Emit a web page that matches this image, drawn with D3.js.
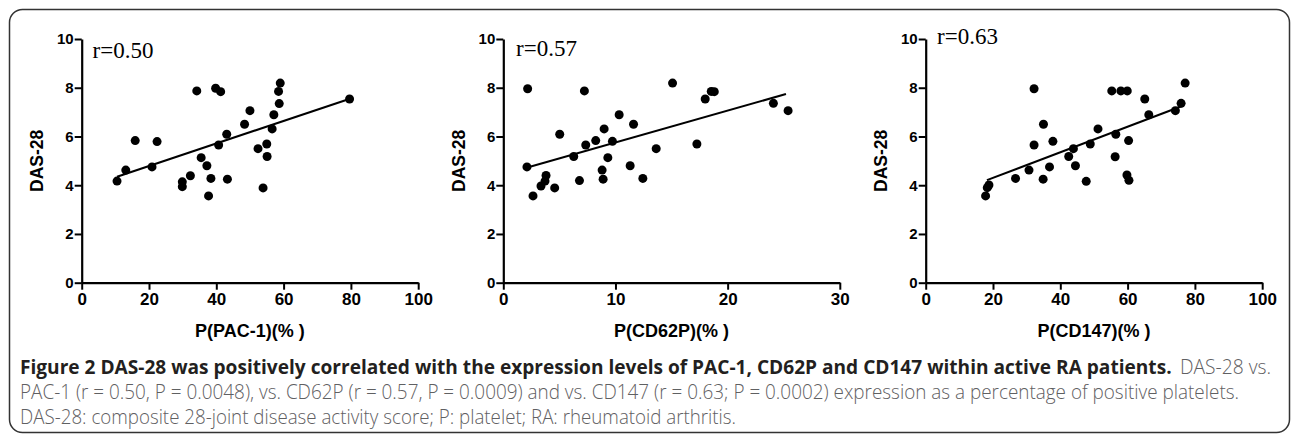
<!DOCTYPE html>
<html>
<head>
<meta charset="utf-8">
<script src="https://cdn.jsdelivr.net/npm/d3@7"></script>
<style>
  html, body { margin: 0; padding: 0; background: #fff; }
  svg { display: block; }
</style>
</head>
<body>
<svg id="chart" width="1296" height="438"></svg>
<script>
// ---------- data ----------
const pacX = [10.5, 13.1, 15.9, 20.9, 22.4, 29.9, 29.9, 32.3, 34.2, 35.5, 37.2, 38.4, 37.7, 39.8, 41.3, 40.7, 43.1, 43.3, 48.4, 50.0, 52.4, 53.9, 55.0, 55.1, 56.6, 57.1, 58.7, 58.5, 59.0, 79.6];
const pacY = [4.17, 4.62, 5.83, 4.75, 5.79, 4.14, 3.94, 4.39, 7.87, 5.13, 4.80, 4.28, 3.56, 7.98, 7.84, 5.65, 6.09, 4.25, 6.50, 7.06, 5.50, 3.89, 5.69, 5.18, 6.31, 6.89, 7.35, 7.85, 8.19, 7.54];

const cd62pX = [2.17, 2.11, 2.65, 3.36, 3.72, 3.81, 4.58, 5.03, 6.28, 6.79, 7.23, 7.35, 8.24, 8.81, 8.90, 8.99, 9.32, 9.73, 10.33, 11.31, 11.61, 12.44, 13.63, 15.09, 17.26, 18.0, 18.54, 18.81, 24.08, 25.39];
const cd62pY = [7.96, 4.75, 3.56, 3.97, 4.17, 4.40, 3.89, 6.09, 5.18, 4.19, 7.87, 5.65, 5.83, 4.62, 4.25, 6.31, 5.13, 5.80, 6.89, 4.80, 6.50, 4.28, 5.50, 8.19, 5.69, 7.54, 7.85, 7.84, 7.36, 7.06];

const cd147X = [17.8, 18.3, 18.8, 26.7, 30.7, 32.2, 32.2, 34.9, 35.0, 36.8, 37.8, 42.5, 43.9, 44.5, 47.7, 48.9, 51.2, 55.3, 56.3, 56.5, 58.0, 59.9, 59.8, 60.4, 60.3, 65.1, 66.3, 74.2, 75.9, 77.1];
const cd147Y = [3.56, 3.90, 4.01, 4.28, 4.62, 7.96, 5.65, 4.25, 6.50, 4.75, 5.80, 5.18, 5.50, 4.80, 4.16, 5.69, 6.31, 7.87, 5.17, 6.09, 7.87, 7.87, 4.42, 4.20, 5.83, 7.54, 6.89, 7.06, 7.36, 8.19];

// regression line end points
const pacFit = [[10.5, 4.35], [79.5, 7.54]];
const cd62pFit = [[2.3, 4.75], [25.2, 7.74]];
const cd147Fit = [[18.2, 4.21], [76.2, 7.25]];

const rLabels = ["r=0.50", "r=0.57", "r=0.63"];
const xTitles = ["P(PAC-1)(% )", "P(CD62P)(% )", "P(CD147)(% )"];
const yTitle = "DAS-28";
const xDomains = [[0, 100], [0, 30], [0, 100]];
const xTicks = [[0, 20, 40, 60, 80, 100], [0, 10, 20, 30], [0, 20, 40, 60, 80, 100]];
const yTicks = [0, 2, 4, 6, 8, 10];

const captionBold = "Figure 2 DAS-28 was positively correlated with the expression levels of PAC-1, CD62P and CD147 within active RA patients.";
const captionLine1Rest = "DAS-28 vs.";
const captionLine2 = "PAC-1 (r = 0.50, P = 0.0048), vs. CD62P (r = 0.57, P = 0.0009) and vs. CD147 (r = 0.63; P = 0.0002) expression as a percentage of positive platelets.";
const captionLine3 = "DAS-28: composite 28-joint disease activity score; P: platelet; RA: rheumatoid arthritis.";

// ---------- layout ----------
const svg = d3.select("#chart");
svg.append("rect")
  .attr("x", 9.5).attr("y", 9.5)
  .attr("width", 1280).attr("height", 423)
  .attr("rx", 13).attr("ry", 13)
  .attr("fill", "none").attr("stroke", "#333").attr("stroke-width", 1.5);

const panels = [
  { xs: pacX, ys: pacY, fit: pacFit, left: 81.7, rX: 92.5, rY: 58 },
  { xs: cd62pX, ys: cd62pY, fit: cd62pFit, left: 503.3, rX: 516, rY: 56 },
  { xs: cd147X, ys: cd147Y, fit: cd147Fit, left: 925.7, rX: 937, rY: 43.5 }
];
const plotW = 336.5, plotTop = 39, plotBottom = 282.7;
const font = "'Liberation Sans', Arial, sans-serif";

panels.forEach((p, i) => {
  const x = d3.scaleLinear().domain(xDomains[i]).range([p.left, p.left + plotW]);
  const y = d3.scaleLinear().domain([0, 10]).range([plotBottom, plotTop]);
  const g = svg.append("g");

  const xa = g.append("g").attr("transform", `translate(0,${plotBottom})`)
    .call(d3.axisBottom(x).tickValues(xTicks[i]).tickSize(7).tickSizeOuter(0).tickPadding(3));
  const ya = g.append("g").attr("transform", `translate(${p.left},0)`)
    .call(d3.axisLeft(y).tickValues(yTicks).tickSize(7).tickSizeOuter(0).tickPadding(1));
  [xa, ya].forEach(a => {
    a.select(".domain").attr("stroke", "#000").attr("stroke-width", 2.2);
    a.selectAll(".tick line").attr("stroke", "#000").attr("stroke-width", 2);
  });
  xa.selectAll(".tick text").attr("font-family", font).attr("font-weight", "bold")
    .attr("font-size", 17).attr("fill", "#000");
  ya.selectAll(".tick text").attr("font-family", font).attr("font-weight", "bold")
    .attr("font-size", 15).attr("fill", "#000");

  // regression line
  g.append("line")
    .attr("x1", x(p.fit[0][0])).attr("y1", y(p.fit[0][1]))
    .attr("x2", x(p.fit[1][0])).attr("y2", y(p.fit[1][1]))
    .attr("stroke", "#000").attr("stroke-width", 2);

  // points
  g.selectAll("circle.pt").data(p.xs.map((v, k) => [v, p.ys[k]]))
    .join("circle").attr("class", "pt")
    .attr("cx", d => x(d[0])).attr("cy", d => y(d[1]))
    .attr("r", 4.5).attr("fill", "#000");

  // r label
  g.append("text").attr("x", p.rX).attr("y", p.rY)
    .attr("font-family", "'Liberation Serif', 'Times New Roman', serif")
    .attr("font-size", 23).attr("fill", "#000").text(rLabels[i]);

  // axis titles
  g.append("text").attr("x", p.left + plotW / 2).attr("y", 337)
    .attr("text-anchor", "middle").attr("font-family", font).attr("font-weight", "bold")
    .attr("font-size", 18).attr("fill", "#000").text(xTitles[i]);
  g.append("text")
    .attr("transform", `translate(${p.left - 38.5},${(plotTop + plotBottom) / 2}) rotate(-90)`)
    .attr("text-anchor", "middle").attr("font-family", font).attr("font-weight", "bold")
    .attr("font-size", 17.5).attr("fill", "#000").text(yTitle);
});

// ---------- caption ----------
const capFont = "'Open Sans', 'Noto Sans', sans-serif";
const cap = svg.append("g").attr("font-family", capFont);
const grey = "#5f6062";
cap.append("text").attr("x", 20).attr("y", 374)
  .attr("font-size", 19.1).attr("font-weight", "bold").attr("fill", "#231f20")
  .text(captionBold);
cap.append("text").attr("x", 1180).attr("y", 374).attr("font-size", 19.5)
  .attr("font-weight", 300).attr("fill", grey)
  .attr("textLength", 91).attr("lengthAdjust", "spacingAndGlyphs").text(captionLine1Rest);
cap.append("text").attr("x", 20).attr("y", 399).attr("font-size", 19.5)
  .attr("font-weight", 300).attr("fill", grey)
  .attr("textLength", 1219).attr("lengthAdjust", "spacingAndGlyphs").text(captionLine2);
cap.append("text").attr("x", 20).attr("y", 424).attr("font-size", 19.5)
  .attr("font-weight", 300).attr("fill", grey)
  .attr("textLength", 716).attr("lengthAdjust", "spacingAndGlyphs").text(captionLine3);
</script>
</body>
</html>
